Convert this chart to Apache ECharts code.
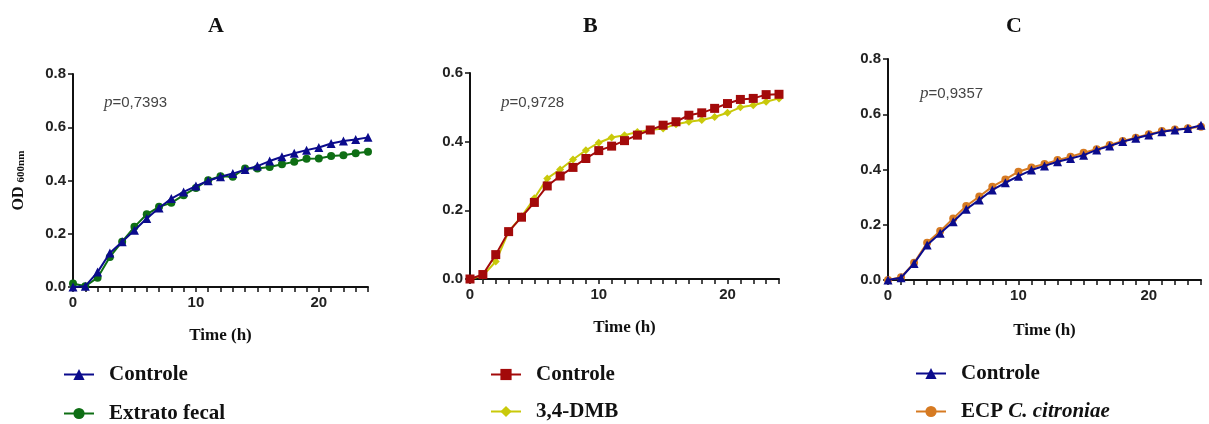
<!DOCTYPE html>
<html>
<head>
<meta charset="utf-8">
<script src="https://cdn.jsdelivr.net/npm/echarts@6/dist/echarts.min.js"></script>
<style>
html,body{margin:0;padding:0;background:#fff;}
#chart{width:1209px;height:424px;}
</style>
</head>
<body>
<div id="chart"></div>
<script>
// ---- data ----
const time = [0,1,2,3,4,5,6,7,8,9,10,11,12,13,14,15,16,17,18,19,20,21,22,23,24];

const panelTitles = ['A', 'B', 'C'];
const pValues = ['=0,7393', '=0,9728', '=0,9357'];
const yTickMax = [0.8, 0.6, 0.8];

// Panel A
const aControle = [0.000,0.003,0.056,0.128,0.170,0.213,0.257,0.297,0.332,0.357,0.379,0.399,0.414,0.426,0.441,0.454,0.473,0.489,0.502,0.514,0.524,0.539,0.548,0.554,0.562];
const aExtrato  = [0.013,0.003,0.035,0.113,0.170,0.226,0.273,0.301,0.316,0.345,0.372,0.401,0.416,0.414,0.445,0.445,0.451,0.461,0.470,0.482,0.483,0.492,0.495,0.502,0.508];
// Panel B
const bControle = [0.000,0.013,0.071,0.138,0.180,0.223,0.271,0.300,0.325,0.351,0.374,0.387,0.403,0.419,0.434,0.448,0.458,0.477,0.484,0.497,0.511,0.523,0.526,0.537,0.538];
const bDMB      = [0.000,0.010,0.051,0.138,0.182,0.235,0.293,0.319,0.348,0.375,0.397,0.412,0.419,0.428,0.434,0.438,0.451,0.458,0.463,0.472,0.484,0.500,0.506,0.516,0.526];
// Panel C
const cControle = [0.000,0.008,0.060,0.127,0.169,0.211,0.256,0.290,0.326,0.352,0.376,0.398,0.413,0.428,0.440,0.452,0.471,0.485,0.501,0.513,0.525,0.537,0.543,0.548,0.560];
const cECP      = [0.000,0.010,0.062,0.135,0.177,0.223,0.268,0.302,0.338,0.364,0.392,0.407,0.420,0.434,0.446,0.461,0.473,0.489,0.503,0.515,0.528,0.539,0.545,0.549,0.555];

// ---- layout ----
const grids = [
  {left: 73,  top: 74, width: 295, height: 213},
  {left: 470, top: 73, width: 309, height: 206},
  {left: 888, top: 59, width: 313, height: 221}
];

const BLUE = '#0b0b8c', GREEN = '#0e6e14', RED = '#a30a0a', YELLOW = '#c9c90a', ORANGE = '#d67a22';

const pairs = vals => time.map((t, i) => [t, vals[i]]);

function lineSeries(name, idx, vals, color, symbol, size, z) {
  return {
    name: name, type: 'line', xAxisIndex: idx, yAxisIndex: idx,
    data: pairs(vals), symbol: symbol, symbolSize: size, z: z,
    lineStyle: {color: color, width: 2},
    itemStyle: {color: color},
    emphasis: {disabled: true}, animation: false
  };
}

const series = [
  lineSeries('Extrato fecal', 0, aExtrato, GREEN, 'circle', 8, 2),
  lineSeries('Controle (A)', 0, aControle, BLUE, 'triangle', 9, 3),
  lineSeries('3,4-DMB', 1, bDMB, YELLOW, 'diamond', 8, 2),
  lineSeries('Controle (B)', 1, bControle, RED, 'rect', 9, 3),
  lineSeries('ECP C. citroniae', 2, cECP, ORANGE, 'circle', 8, 2),
  lineSeries('Controle (C)', 2, cControle, BLUE, 'triangle', 9, 3)
];

const xAxes = grids.map((g, i) => ({
  type: 'value', gridIndex: i, min: 0, max: 24, interval: 1,
  name: 'Time (h)', nameLocation: 'middle', nameGap: i === 2 ? 42 : 40,
  nameTextStyle: {fontFamily: 'Liberation Serif', fontWeight: 'bold', fontSize: 17, color: '#111'},
  axisLine: {show: true, lineStyle: {color: '#111', width: 2}},
  axisTick: {show: true, length: 5, lineStyle: {color: '#111', width: 1.5}},
  axisLabel: {
    formatter: v => (v % 10 === 0 ? String(v) : ''),
    fontFamily: 'Liberation Sans', fontWeight: 'bold', fontSize: 15, color: '#222', margin: 8
  },
  splitLine: {show: false}
}));

const yAxes = grids.map((g, i) => ({
  type: 'value', gridIndex: i, min: 0, max: yTickMax[i], interval: 0.2,
  name: i === 0 ? '{od|OD }{sub|600nm}' : '',
  nameLocation: 'middle', nameGap: 46, nameRotate: 90,
  nameTextStyle: {
    color: '#111',
    rich: {
      od: {fontFamily: 'Liberation Serif', fontWeight: 'bold', fontSize: 16, color: '#111'},
      sub: {fontFamily: 'Liberation Serif', fontWeight: 'bold', fontSize: 11, color: '#111', verticalAlign: 'bottom', padding: [6, 0, 0, 0]}
    }
  },
  axisLine: {show: true, lineStyle: {color: '#111', width: 2}},
  axisTick: {show: true, length: 5, lineStyle: {color: '#111', width: 1.5}},
  axisLabel: {
    formatter: v => v.toFixed(1),
    fontFamily: 'Liberation Sans', fontWeight: 'bold', fontSize: 15, color: '#222', margin: 7
  },
  splitLine: {show: false}
}));

const titleX = [208, 583, 1006];
const titles = panelTitles.map((t, i) => ({
  text: t, left: titleX[i], top: 15, padding: 0,
  textStyle: {fontFamily: 'Liberation Serif', fontWeight: 'bold', fontSize: 22, color: '#111'}
}));

const pPos = [[104, 103], [501, 103], [920, 94]];
const pTexts = pValues.map((p, i) => ({
  type: 'text', left: pPos[i][0], top: pPos[i][1] - 9,
  style: {
    text: '{i|p}' + p,
    fontFamily: 'Liberation Sans', fontSize: 15, fill: '#444',
    rich: {i: {fontFamily: 'Liberation Serif', fontStyle: 'italic', fontSize: 17, color: '#444'}}
  }
}));

// one legend component per entry: [series name, left, row center y]
const legendItems = [
  ['Controle (A)', 63, 376], ['Extrato fecal', 63, 415],
  ['Controle (B)', 490, 376], ['3,4-DMB', 490, 413],
  ['Controle (C)', 915, 375], ['ECP C. citroniae', 915, 413]
];
const legends = legendItems.map(([name, x, y]) => ({
  data: [name], orient: 'horizontal', left: x, top: y - 12,
  padding: 0, itemWidth: 30, itemHeight: 14,
  selectedMode: false,
  formatter: n => n === 'ECP C. citroniae' ? '{t|ECP }{it|C. citroniae}' : n.replace(/ \([ABC]\)$/, ''),
  textStyle: {
    fontFamily: 'Liberation Serif', fontWeight: 'bold', fontSize: 21, color: '#111', padding: [0, 0, 0, 10],
    rich: {
      t: {fontFamily: 'Liberation Serif', fontWeight: 'bold', fontSize: 21, color: '#111'},
      it: {fontFamily: 'Liberation Serif', fontWeight: 'bold', fontStyle: 'italic', fontSize: 21, color: '#111'}
    }
  }
}));

const chart = echarts.init(document.getElementById('chart'), null, {renderer: 'canvas'});
chart.setOption({
  backgroundColor: '#fff',
  animation: false,
  title: titles,
  grid: grids,
  xAxis: xAxes,
  yAxis: yAxes,
  legend: legends,
  series: series,
  graphic: pTexts
});
</script>
</body>
</html>
